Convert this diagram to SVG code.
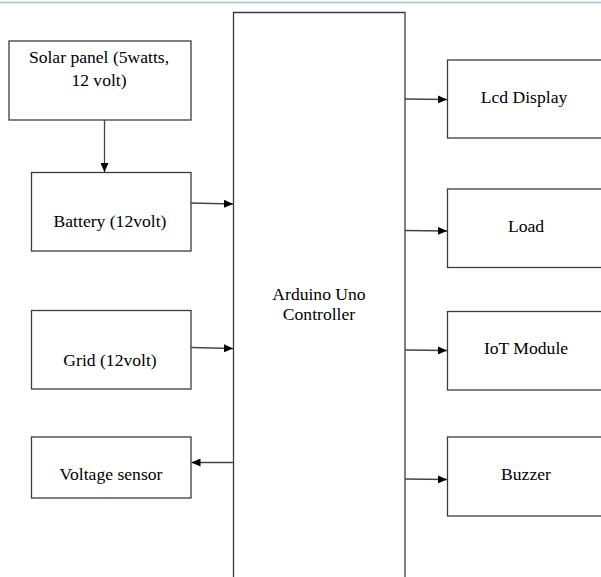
<svg xmlns="http://www.w3.org/2000/svg" width="601" height="577" viewBox="0 0 601 577">
<style>
.box{fill:#fff;stroke:#3c3c3c;stroke-width:1.3}
.t{font-size:17.6px;fill:#000;text-anchor:middle}
.c{stroke:#444;stroke-width:1.3;fill:none}
</style>
<defs>
<marker id="ah" markerWidth="9" markerHeight="8" refX="9" refY="4" orient="auto" markerUnits="userSpaceOnUse">
<path d="M0,0 L9,4 L0,8 Z" fill="#000"/>
</marker>
</defs>
<rect width="601" height="577" fill="#fff"/>
<line x1="0" y1="2.5" x2="601" y2="2.5" stroke="#9dc3e6" stroke-width="1.5"/>
<g font-family="'Liberation Serif', 'DejaVu Serif', serif">
<g id="arduino">
<path class="box" d="M233.5,585 L233.5,12.5 L405,12.5 L405,585"/>
<text class="t" x="319" y="300">Arduino Uno</text>
<text class="t" x="319" y="320">Controller</text>
</g>
<g id="solar">
<rect class="box" x="9" y="41" width="182" height="79"/>
<text class="t" x="99" y="63">Solar panel (5watts,</text>
<text class="t" x="99" y="86">12 volt)</text>
</g>
<g id="battery">
<rect class="box" x="31.5" y="172.5" width="159.5" height="78.5"/>
<text class="t" x="110" y="227">Battery (12volt)</text>
</g>
<g id="grid">
<rect class="box" x="31.5" y="310.5" width="159.5" height="78.5"/>
<text class="t" x="110" y="366">Grid (12volt)</text>
</g>
<g id="voltage">
<rect class="box" x="31.5" y="437" width="159.5" height="61"/>
<text class="t" x="111" y="480">Voltage sensor</text>
</g>
<g id="lcd">
<rect class="box" x="447.5" y="60" width="160" height="78"/>
<text class="t" x="524" y="103">Lcd Display</text>
</g>
<g id="load">
<rect class="box" x="447.5" y="189" width="160" height="78.5"/>
<text class="t" x="526" y="232">Load</text>
</g>
<g id="iot">
<rect class="box" x="447.5" y="311.5" width="160" height="78.5"/>
<text class="t" x="526" y="354">IoT Module</text>
</g>
<g id="buzzer">
<rect class="box" x="447.5" y="437" width="160" height="79"/>
<text class="t" x="526" y="480">Buzzer</text>
</g>
</g>
<g id="connectors">
<line class="c" x1="104.5" y1="120" x2="104.5" y2="172" marker-end="url(#ah)"/>
<line class="c" x1="191" y1="203" x2="233" y2="204" marker-end="url(#ah)"/>
<line class="c" x1="191" y1="347.5" x2="233" y2="348.5" marker-end="url(#ah)"/>
<line class="c" x1="233.5" y1="462.5" x2="191.5" y2="462.5" marker-end="url(#ah)"/>
<line class="c" x1="405" y1="99" x2="447" y2="99.5" marker-end="url(#ah)"/>
<line class="c" x1="405" y1="230.5" x2="447" y2="231" marker-end="url(#ah)"/>
<line class="c" x1="405" y1="350" x2="447" y2="350.5" marker-end="url(#ah)"/>
<line class="c" x1="405" y1="479" x2="447" y2="479.5" marker-end="url(#ah)"/>
</g>
</svg>
